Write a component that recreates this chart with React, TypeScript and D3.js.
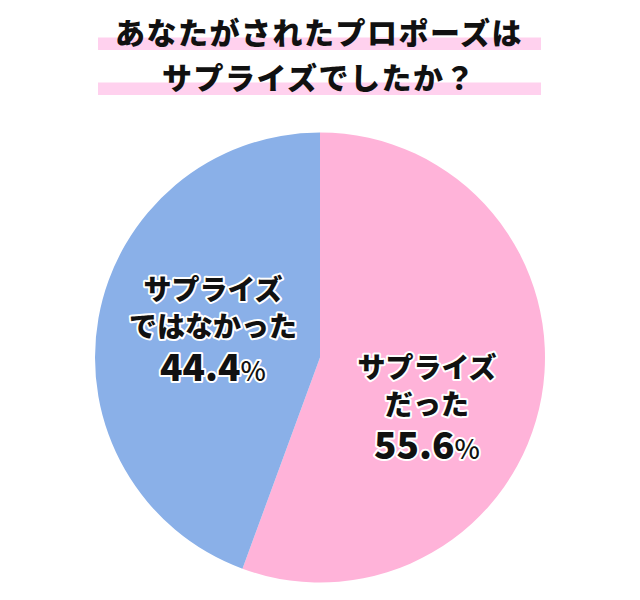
import React from "react";
import * as d3 from "d3";

const categories = ["サプライズだった", "サプライズではなかった"];
const values = [55.6, 44.4];
const labelLines = [["サプライズ", "だった"], ["サプライズ", "ではなかった"]];
const titleLines = ["あなたがされたプロポーズは", "サプライズでしたか？"];
const colors = ["#FFB3D9", "#8AB0E8"];

const W = 640, H = 600;
const cx = 320, cy = 357.5, R = 225;
const FONT = "'Noto Sans CJK JP', 'Noto Sans', sans-serif";

export default function App() {
  const pie = d3.pie<number>().sort(null).startAngle(0).endAngle(2 * Math.PI);
  const arcs = pie(values);
  const arcGen = d3.arc<d3.PieArcDatum<number>>().innerRadius(0).outerRadius(R);
  const labelX = [427 - cx, 213 - cx];
  const labelTop = [378 - cy, 300 - cy];

  return (
    <svg width={W} height={H} style={{ position: "absolute", left: 0, top: 0 }} fontFamily={FONT}>
      <rect width={W} height={H} fill="#fff" />
      <rect x={98} y={37.5} width={443} height={12.5} fill="#FFD1EE" />
      <rect x={98} y={82.5} width={443} height={12.5} fill="#FFD1EE" />
      {titleLines.map((t, i) => (
        <text key={i} x={319} y={44 + i * 45} textAnchor="middle" fontSize={30} fontWeight={900} letterSpacing={1.5} fill="#111">
          {t}
        </text>
      ))}
      <g transform={`translate(${cx},${cy})`}>
        {arcs.map((a, i) => (
          <path key={categories[i]} d={arcGen(a) || ""} fill={colors[i]} />
        ))}
        {arcs.map((a, i) => (
          <g key={"l" + i} transform={`translate(${labelX[i]},${labelTop[i]})`} fill="#111" stroke="#fff" strokeWidth={4} strokeLinejoin="round" style={{ paintOrder: "stroke" }} textAnchor="middle">
            <text y={0} fontSize={28} fontWeight={900}>{labelLines[i][0]}</text>
            <text y={37} fontSize={28} fontWeight={900}>{labelLines[i][1]}</text>
            <text y={81} fontWeight={900}>
              <tspan fontSize={37}>{values[i].toFixed(1)}</tspan>
              <tspan fontSize={27} fontWeight={500}>%</tspan>
            </text>
          </g>
        ))}
      </g>
    </svg>
  );
}
